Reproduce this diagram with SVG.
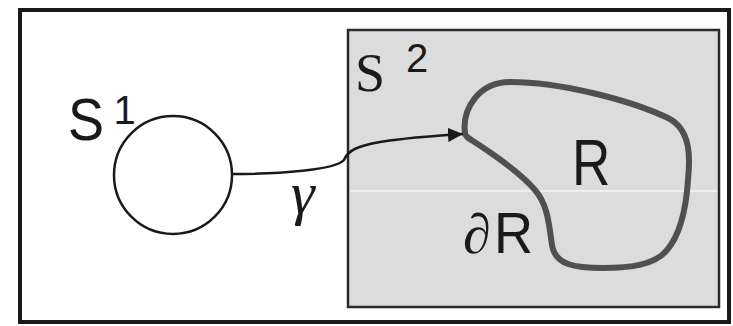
<svg xmlns="http://www.w3.org/2000/svg" width="733" height="326" viewBox="0 0 733 326">
  <style>
    .sans { font-family: "Liberation Sans", Arial, sans-serif; fill: #1a1a1a; }
    .serif { font-family: "Liberation Serif", "Times New Roman", serif; fill: #1a1a1a; }
    .thin { fill: none; stroke: #1a1a1a; stroke-width: 2.5; }
  </style>
  <defs>
    <marker id="arrow" viewBox="0 0 15 14" refX="15" refY="7" markerWidth="15" markerHeight="14" markerUnits="userSpaceOnUse" orient="auto">
      <path d="M0,0 L15,7 L0,14 Z" fill="#1a1a1a"/>
    </marker>
  </defs>

  <rect x="0" y="0" width="733" height="326" fill="#ffffff"/>

  <!-- outer frame -->
  <g id="frame">
    <rect x="20" y="10" width="709" height="312" fill="#ffffff" stroke="#1a1a1a" stroke-width="4"/>
  </g>

  <!-- sphere S2 as a shaded rectangle -->
  <g id="s2">
    <rect x="348" y="30" width="371" height="277" fill="#dcdcdc" stroke="#2a2a2a" stroke-width="2.5"/>
    <line x1="350" y1="191" x2="717" y2="191" stroke="#ffffff" stroke-width="1.2"/>
    <text class="serif" x="355" y="91" font-size="54">S</text>
    <text class="sans" x="406" y="72" font-size="40">2</text>
  </g>

  <!-- circle S1 -->
  <g id="s1">
    <circle cx="173" cy="175" r="59" fill="#ffffff" stroke="#1a1a1a" stroke-width="2.5"/>
    <text class="sans" transform="translate(68,140) scale(0.9,1)" font-size="60">S</text>
    <text class="sans" x="113.5" y="124" font-size="40">1</text>
  </g>

  <!-- region R and its boundary -->
  <g id="region-r">
    <path d="M465,133 C462,110 478,82 510,82 C560,82 630,100 668,118 C692,130 690,160 688,180 C686,210 680,235 667,250 C655,265 630,268 603,268 C575,268 555,265 552,245 C549,225 548,205 535,190 C520,172 490,152 473,141 C468,138 465,136 465,133 Z" fill="none" stroke="#505050" stroke-width="6" stroke-linejoin="round"/>
    <text class="sans" transform="translate(572,185) scale(0.83,1)" font-size="64">R</text>
    <text class="serif" x="463" y="253" font-size="56" font-style="italic">∂</text>
    <text class="sans" transform="translate(494,253) scale(0.95,1)" font-size="57">R</text>
  </g>

  <!-- map gamma from S1 into S2 -->
  <g id="connectors">
    <path class="thin" d="M232,174 C280,174 335,170 344,160 C348,150 358,146 380,142 C405,138 430,136 463,134" marker-end="url(#arrow)"/>
    <text class="serif" x="291" y="213" font-size="60" font-style="italic">γ</text>
  </g>
</svg>
